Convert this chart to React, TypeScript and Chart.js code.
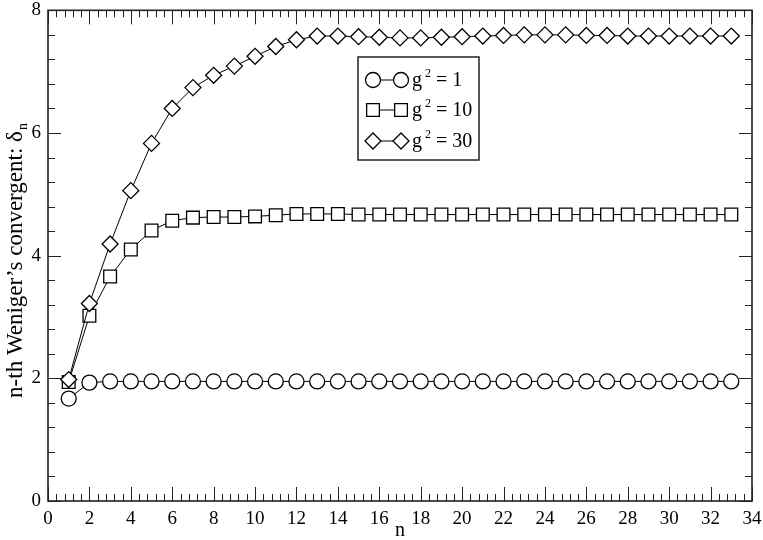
import React, { useEffect, useRef } from 'react';
import { Chart, registerables } from 'chart.js';

Chart.register(...registerables);

// ---- data ----
const nValues = [1, 2, 3, 4, 5, 6, 7, 8, 9, 10, 11, 12, 13, 14, 15, 16, 17, 18, 19, 20, 21, 22, 23, 24, 25, 26, 27, 28, 29, 30, 31, 32, 33];
const deltaG1 = [1.67, 1.93, 1.95, 1.95, 1.95, 1.95, 1.95, 1.95, 1.95, 1.95, 1.95, 1.95, 1.95, 1.95, 1.95, 1.95, 1.95, 1.95, 1.95, 1.95, 1.95, 1.95, 1.95, 1.95, 1.95, 1.95, 1.95, 1.95, 1.95, 1.95, 1.95, 1.95, 1.95];
const deltaG10 = [1.94, 3.02, 3.66, 4.10, 4.41, 4.57, 4.62, 4.63, 4.63, 4.64, 4.66, 4.68, 4.68, 4.68, 4.67, 4.67, 4.67, 4.67, 4.67, 4.67, 4.67, 4.67, 4.67, 4.67, 4.67, 4.67, 4.67, 4.67, 4.67, 4.67, 4.67, 4.67, 4.67];
const deltaG30 = [1.98, 3.22, 4.19, 5.06, 5.83, 6.40, 6.74, 6.94, 7.09, 7.25, 7.41, 7.52, 7.58, 7.58, 7.57, 7.56, 7.55, 7.55, 7.56, 7.57, 7.58, 7.59, 7.60, 7.60, 7.60, 7.59, 7.59, 7.58, 7.58, 7.58, 7.58, 7.58, 7.58];
const couplingLabels = ['1', '10', '30'];
const xRange = [0, 34];
const yRange = [0, 8];
const majorStep = 2;
const minorDivisions = 5;

const SERIF = '"Liberation Serif", "Times New Roman", serif';

type Marker = 'circle' | 'rect' | 'rectRot';
const markerStyles: Marker[] = ['circle', 'rect', 'rectRot'];
const markerRadii = [7.5, 9, 8];

function drawMarker(ctx: CanvasRenderingContext2D, style: Marker, r: number, x: number, y: number) {
  ctx.beginPath();
  if (style === 'circle') {
    ctx.arc(x, y, r, 0, Math.PI * 2);
  } else if (style === 'rect') {
    const s = Math.SQRT1_2 * r;
    ctx.rect(x - s, y - s, 2 * s, 2 * s);
  } else {
    ctx.moveTo(x - r, y);
    ctx.lineTo(x, y - r);
    ctx.lineTo(x + r, y);
    ctx.lineTo(x, y + r);
    ctx.closePath();
  }
  ctx.fillStyle = '#fff';
  ctx.fill();
  ctx.stroke();
}

const framePlugin = {
  id: 'graceFrame',
  afterDraw(chart: any) {
    const { ctx, chartArea: a, scales } = chart;
    const xs = scales.x;
    const ys = scales.y;
    ctx.save();
    ctx.strokeStyle = '#222';
    ctx.lineWidth = 1;
    // x ticks (bottom & top), inward
    const nx = ((xRange[1] - xRange[0]) / majorStep) * minorDivisions;
    for (let i = 0; i <= nx; i++) {
      const v = xRange[0] + (i * majorStep) / minorDivisions;
      const px = Math.round(xs.getPixelForValue(v)) + 0.5;
      const len = i % minorDivisions === 0 ? 14 : 7;
      ctx.beginPath();
      ctx.moveTo(px, a.bottom);
      ctx.lineTo(px, a.bottom - len);
      ctx.moveTo(px, a.top);
      ctx.lineTo(px, a.top + len);
      ctx.stroke();
    }
    const ny = ((yRange[1] - yRange[0]) / majorStep) * minorDivisions;
    for (let i = 0; i <= ny; i++) {
      const v = yRange[0] + (i * majorStep) / minorDivisions;
      const py = Math.round(ys.getPixelForValue(v)) + 0.5;
      const len = i % minorDivisions === 0 ? 13 : 7;
      ctx.beginPath();
      ctx.moveTo(a.left, py);
      ctx.lineTo(a.left + len, py);
      ctx.moveTo(a.right, py);
      ctx.lineTo(a.right - len, py);
      ctx.stroke();
    }
    // box
    ctx.lineWidth = 1.6;
    ctx.strokeRect(a.left, a.top, a.right - a.left, a.bottom - a.top);

    // x title
    ctx.fillStyle = '#000';
    ctx.font = `20px ${SERIF}`;
    ctx.textAlign = 'center';
    ctx.textBaseline = 'alphabetic';
    ctx.fillText('n', (a.left + a.right) / 2, 536);

    // y title with subscript
    ctx.save();
    ctx.translate(22, 261);
    ctx.rotate(-Math.PI / 2);
    const main = 'n-th Weniger\u2019s convergent: \u03b4';
    ctx.font = `23px ${SERIF}`;
    const wMain = ctx.measureText(main).width;
    ctx.font = `14px ${SERIF}`;
    const wSub = ctx.measureText('n').width;
    const start = -(wMain + wSub) / 2;
    ctx.textAlign = 'left';
    ctx.font = `23px ${SERIF}`;
    ctx.fillText(main, start, 0);
    ctx.font = `14px ${SERIF}`;
    ctx.fillText('n', start + wMain + 1, 5);
    ctx.restore();

    // legend
    const lx = 358, ly = 57, lw = 121, lh = 103;
    ctx.fillStyle = '#fff';
    ctx.fillRect(lx, ly, lw, lh);
    ctx.strokeStyle = '#222';
    ctx.lineWidth = 1.5;
    ctx.strokeRect(lx, ly, lw, lh);
    const rows = [80, 110, 141];
    couplingLabels.forEach((lab, i) => {
      const ry = rows[i];
      ctx.strokeStyle = '#000';
      ctx.lineWidth = 1;
      ctx.beginPath();
      ctx.moveTo(373, ry);
      ctx.lineTo(401, ry);
      ctx.stroke();
      ctx.lineWidth = 1.3;
      drawMarker(ctx, markerStyles[i], markerRadii[i], 373, ry);
      drawMarker(ctx, markerStyles[i], markerRadii[i], 401, ry);
      ctx.fillStyle = '#000';
      ctx.textAlign = 'left';
      ctx.textBaseline = 'alphabetic';
      ctx.font = `20px ${SERIF}`;
      ctx.fillText('g', 412, ry + 6);
      ctx.font = `12px ${SERIF}`;
      ctx.fillText('2', 425, ry - 3);
      ctx.font = `20px ${SERIF}`;
      ctx.fillText('= ' + lab, 436, ry + 6);
    });
    ctx.restore();
  },
};

export default function App() {
  const ref = useRef<HTMLCanvasElement | null>(null);
  useEffect(() => {
    if (!ref.current) return;
    const series = [deltaG1, deltaG10, deltaG30];
    const datasets = series.map((vals, i) => ({
      label: 'g\u00b2 = ' + couplingLabels[i],
      data: nValues.map((n, k) => ({ x: n, y: vals[k] })),
      showLine: true,
      borderColor: '#000',
      borderWidth: 1,
      pointStyle: markerStyles[i],
      pointRadius: markerRadii[i],
      pointBackgroundColor: '#fff',
      pointBorderColor: '#000',
      pointBorderWidth: 1.3,
      order: 2 - i,
      clip: false as any,
    }));
    const chart = new Chart(ref.current, {
      type: 'scatter',
      data: { datasets },
      options: {
        animation: false,
        responsive: true,
        maintainAspectRatio: false,
        devicePixelRatio: 1,
        events: [],
        layout: { padding: { top: 8, right: 11, left: 0, bottom: 0 } },
        plugins: { legend: { display: false }, tooltip: { enabled: false } },
        scales: {
          x: {
            type: 'linear',
            min: xRange[0],
            max: xRange[1],
            grid: { display: false, drawTicks: false },
            border: { display: false },
            afterFit: (s: any) => { s.height = 39; s.paddingLeft = 0; s.paddingRight = 0; },
            ticks: {
              stepSize: majorStep,
              autoSkip: false,
              maxRotation: 0,
              padding: 7,
              color: '#000',
              font: { family: SERIF, size: 19 },
            },
          },
          y: {
            type: 'linear',
            min: yRange[0],
            max: yRange[1],
            grid: { display: false, drawTicks: false },
            border: { display: false },
            afterFit: (s: any) => { s.width = 48; s.paddingTop = 0; s.paddingBottom = 0; },
            ticks: {
              stepSize: majorStep,
              padding: 7,
              color: '#000',
              font: { family: SERIF, size: 19 },
            },
          },
        },
      },
      plugins: [framePlugin],
    });
    return () => chart.destroy();
  }, []);
  return (
    <div style={{ position: 'absolute', left: 0, top: 0, width: 763, height: 540 }}>
      <canvas ref={ref} />
    </div>
  );
}
